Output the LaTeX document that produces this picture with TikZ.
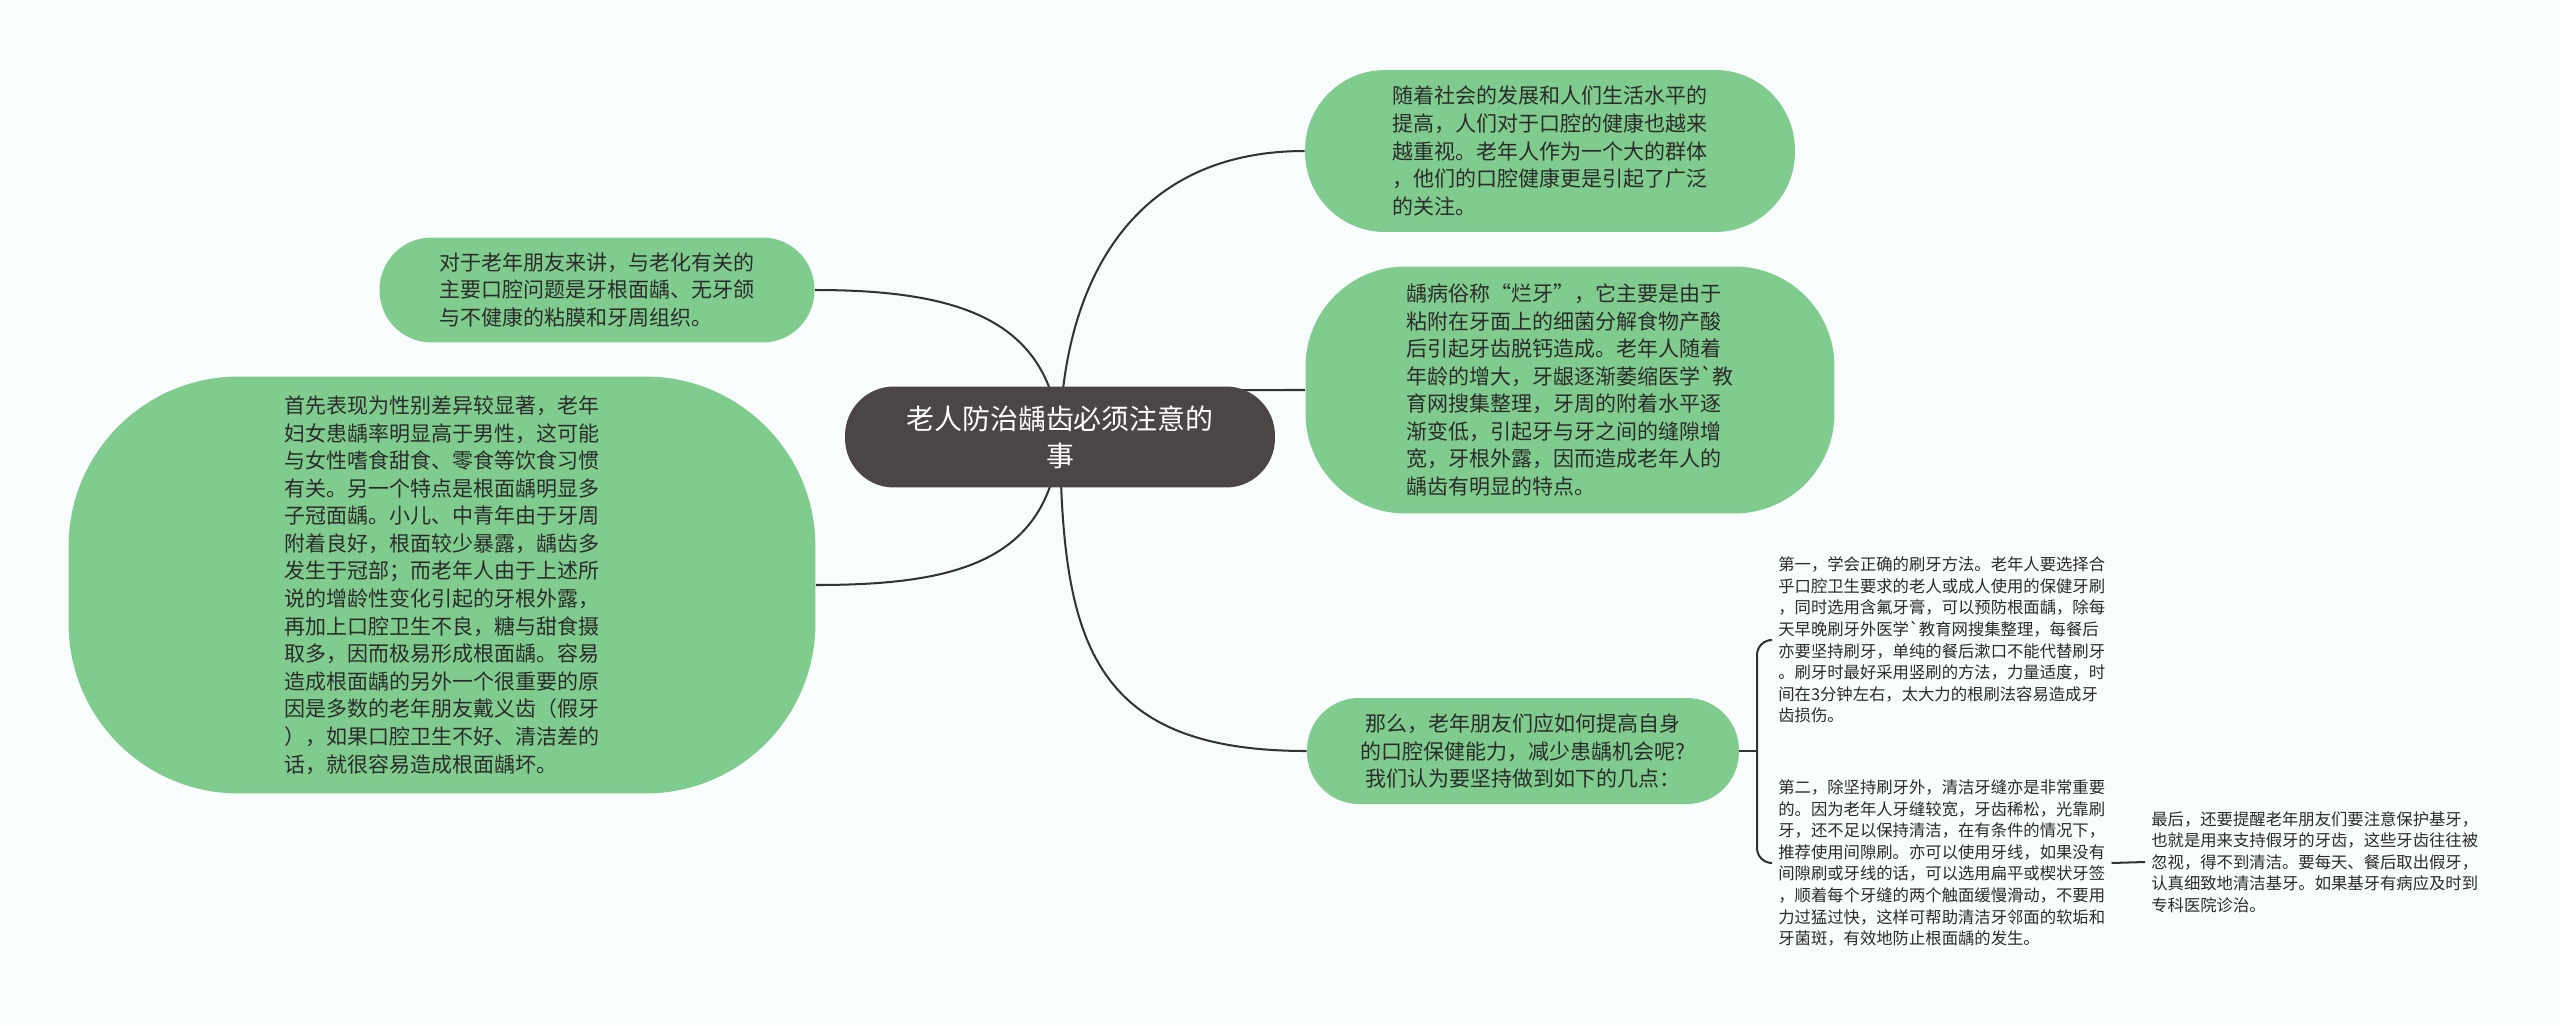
\documentclass[tikz,border=0pt]{standalone}
\usepackage{fontspec}
\setmainfont{Noto Sans CJK SC}
\usepackage{tikz}
\definecolor{cgreen}{HTML}{80CC8E}
\definecolor{cdark}{HTML}{4B4545}
\definecolor{cline}{HTML}{333333}
\definecolor{ctext}{HTML}{2B2B2B}
\definecolor{cbg}{HTML}{F8FCFC}

\pgfdeclarelayer{behind}
\pgfsetlayers{behind,main}

\tikzset{
  leafbox/.style={fill=cgreen, draw=none, inner sep=0pt, align=left, text=ctext,
    font=\fontsize{11.95pt}{15.7pt}\selectfont},
  notetext/.style={inner xsep=0.12cm, inner ysep=0pt, align=left, text=ctext, anchor=west,
    font=\fontsize{9.3pt}{12.3pt}\selectfont},
  conn/.style={draw=cline, line width=1.15pt}
}

\begin{document}
\begin{tikzpicture}[x=0.02cm, y=-0.02cm]
			\useasboundingbox (0,0) rectangle (2560,1025);

			% centre topic
			\node[fill=cdark, text=white, inner sep=0pt, align=center, rounded corners=0.98cm,
				minimum width=8.6cm, minimum height=2.02cm,
				font=\fontsize{15.9pt}{20.9pt}\selectfont] (root) at (1060,437)
				{老人防治龋齿必须注意的\\事};

			% branches on the right
			\node[leafbox, rounded corners=1.6cm, minimum width=9.8cm, minimum height=3.24cm] (n1) at (1550,151)
				{随着社会的发展和人们生活水平的\\
				提高，人们对于口腔的健康也越来\\
				越重视。老年人作为一个大的群体\\
				，他们的口腔健康更是引起了广泛\\
				的关注。};
			\node[leafbox, rounded corners=2cm, minimum width=10.58cm, minimum height=4.94cm] (n2) at (1570,390)
				{龋病俗称“烂牙”，它主要是由于\\
				粘附在牙面上的细菌分解食物产酸\\
				后引起牙齿脱钙造成。老年人随着\\
				年龄的增大，牙龈逐渐萎缩医学\textasciigrave 教\\
				育网搜集整理，牙周的附着水平逐\\
				渐变低，引起牙与牙之间的缝隙增\\
				宽，牙根外露，因而造成老年人的\\
				龋齿有明显的特点。};
			\node[leafbox, align=center, rounded corners=1.04cm, minimum width=8.64cm, minimum height=2.12cm] (n5) at (1523,751)
				{那么，老年朋友们应如何提高自身\\
				的口腔保健能力，减少患龋机会呢?\\
				我们认为要坚持做到如下的几点：};

			% branches on the left
			\node[leafbox, rounded corners=1.04cm, minimum width=8.7cm, minimum height=2.1cm] (n3) at (597,290)
				{对于老年朋友来讲，与老化有关的\\
				主要口腔问题是牙根面龋、无牙颌\\
				与不健康的粘膜和牙周组织。};
			\node[leafbox, rounded corners=3.4cm, minimum width=14.94cm, minimum height=8.34cm] (n4) at (442,585)
				{首先表现为性别差异较显著，老年\\
				妇女患龋率明显高于男性，这可能\\
				与女性嗜食甜食、零食等饮食习惯\\
				有关。另一个特点是根面龋明显多\\
				子冠面龋。小儿、中青年由于牙周\\
				附着良好，根面较少暴露，龋齿多\\
				发生于冠部；而老年人由于上述所\\
				说的增龄性变化引起的牙根外露，\\
				再加上口腔卫生不良，糖与甜食摄\\
				取多，因而极易形成根面龋。容易\\
				造成根面龋的另外一个很重要的原\\
				因是多数的老年朋友戴义齿（假牙\\
				），如果口腔卫生不好、清洁差的\\
				话，就很容易造成根面龋坏。};

			% sub-points
			\node[notetext] (t1) at (1772,640)
				{第一，学会正确的刷牙方法。老年人要选择合\\
				乎口腔卫生要求的老人或成人使用的保健牙刷\\
				，同时选用含氟牙膏，可以预防根面龋，除每\\
				天早晚刷牙外医学\textasciigrave 教育网搜集整理，每餐后\\
				亦要坚持刷牙，单纯的餐后漱口不能代替刷牙\\
				。刷牙时最好采用竖刷的方法，力量适度，时\\
				间在3分钟左右，太大力的根刷法容易造成牙\\
				齿损伤。};
			\node[notetext] (t2) at (1772,863)
				{第二，除坚持刷牙外，清洁牙缝亦是非常重要\\
				的。因为老年人牙缝较宽，牙齿稀松，光靠刷\\
				牙，还不足以保持清洁，在有条件的情况下，\\
				推荐使用间隙刷。亦可以使用牙线，如果没有\\
				间隙刷或牙线的话，可以选用扁平或楔状牙签\\
				，顺着每个牙缝的两个触面缓慢滑动，不要用\\
				力过猛过快，这样可帮助清洁牙邻面的软垢和\\
				牙菌斑，有效地防止根面龋的发生。};
			\node[notetext] (t3) at (2145,862)
				{最后，还要提醒老年朋友们要注意保护基牙，\\
				也就是用来支持假牙的牙齿，这些牙齿往往被\\
				忽视，得不到清洁。要每天、餐后取出假牙，\\
				认真细致地清洁基牙。如果基牙有病应及时到\\
				专科医院诊治。};

			\coordinate (fork) at (1757,751);

			% page colour and curved branches, kept under the boxes
			\begin{pgfonlayer}{behind}
			\fill[cbg] (0,0) rectangle (2560,1025);
			\draw[conn] (root.center) .. controls (1062,300) and (1120,151) .. (n1.west);
			\draw[conn] (root.center) .. controls (1120,390) .. (n2.west);
			\draw[conn] (root.center) .. controls (1062,640) and (1090,751) .. (n5.west);
			\draw[conn] (root.center) .. controls (1050,320) and (960,290) .. (n3.east);
			\draw[conn] (root.center) .. controls (1050,560) and (960,585) .. (n4.east);
			\end{pgfonlayer}

			\draw[conn] (t2.east) -- (t3.west);
			\draw[conn] (n5.east) -- (fork);
			\draw[conn, rounded corners=0.3cm] (fork) |- (t1.west);
			\draw[conn, rounded corners=0.3cm] (fork) |- (t2.west);
		\end{tikzpicture}
\end{document}
